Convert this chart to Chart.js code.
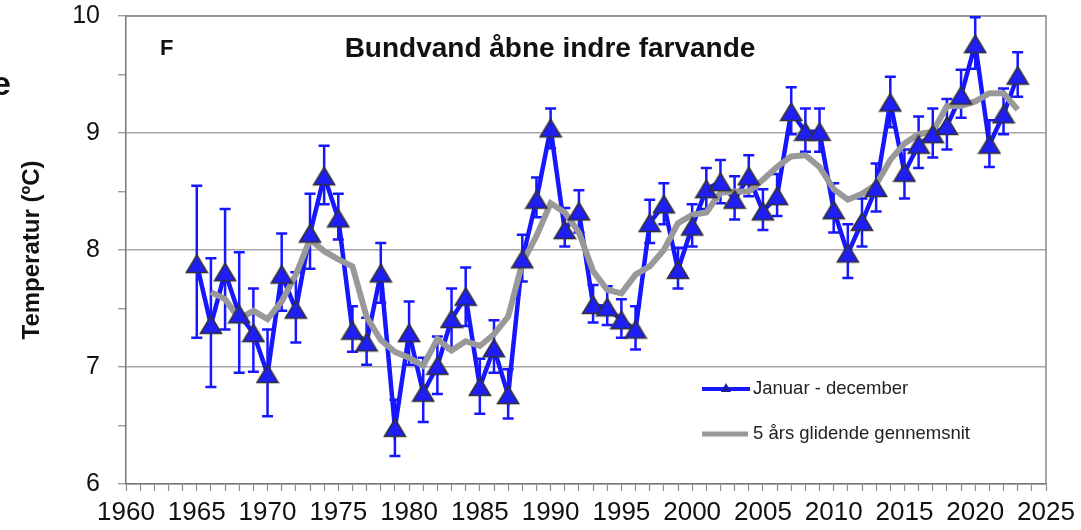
<!DOCTYPE html>
<html>
<head>
<meta charset="utf-8">
<script src="https://cdn.jsdelivr.net/npm/chart.js@4.4.1/dist/chart.umd.min.js"></script>
<style>
  body { margin: 0; background: #fff; }
  #wrap { width: 1081px; height: 530px; position: relative; }
</style>
</head>
<body>
<div id="wrap"><canvas id="tempChart"></canvas></div>
<script>
const FONT = "'Liberation Sans', Arial, sans-serif";

// Januar - december, yearly mean with error bars
const years = [
  1965, 1966, 1967, 1968, 1969, 1970, 1971, 1972, 1973, 1974,
  1975, 1976, 1977, 1978, 1979, 1980, 1981, 1982, 1983, 1984,
  1985, 1986, 1987, 1988, 1989, 1990, 1991, 1992, 1993, 1994,
  1995, 1996, 1997, 1998, 1999, 2000, 2001, 2002, 2003, 2004,
  2005, 2006, 2007, 2008, 2009, 2010, 2011, 2012, 2013, 2014,
  2015, 2016, 2017, 2018, 2019, 2020, 2021, 2022, 2023,
];
const yearlyMean = [
  7.88, 7.36, 7.81, 7.45, 7.29, 6.94, 7.79, 7.49, 8.14, 8.63,
  8.27, 7.31, 7.21, 7.80, 6.48, 7.29, 6.78, 7.01, 7.41, 7.60,
  6.83, 7.16, 6.76, 7.92, 8.43, 9.04, 8.17, 8.33, 7.53, 7.51,
  7.40, 7.32, 8.23, 8.39, 7.83, 8.20, 8.52, 8.58, 8.43, 8.63,
  8.33, 8.46, 9.18, 9.01, 9.01, 8.34, 7.97, 8.24, 8.53, 9.26,
  8.66, 8.90, 8.99, 9.06, 9.32, 9.76, 8.90, 9.16, 9.49,
];
const errLow = [
  7.25, 6.83, 7.32, 6.95, 6.96, 6.58, 7.48, 7.21, 7.84, 8.39,
  8.09, 7.13, 7.02, 7.55, 6.24, 7.02, 6.53, 6.77, 7.15, 7.35,
  6.60, 6.95, 6.56, 7.73, 8.28, 8.87, 8.03, 8.15, 7.38, 7.36,
  7.25, 7.15, 8.06, 8.22, 7.67, 8.03, 8.35, 8.40, 8.26, 8.46,
  8.17, 8.29, 8.99, 8.84, 8.84, 8.15, 7.76, 8.03, 8.33, 9.05,
  8.44, 8.70, 8.79, 8.86, 9.13, 9.55, 8.71, 8.99, 9.31,
];
const errHigh = [
  8.55, 7.93, 8.35, 7.98, 7.67, 7.32, 8.14, 7.81, 8.48, 8.89,
  8.48, 7.52, 7.42, 8.06, 6.72, 7.56, 7.08, 7.26, 7.67, 7.85,
  7.07, 7.40, 6.98, 8.13, 8.62, 9.21, 8.36, 8.51, 7.70, 7.69,
  7.58, 7.52, 8.43, 8.57, 8.02, 8.39, 8.70, 8.77, 8.63, 8.81,
  8.52, 8.65, 9.39, 9.21, 9.21, 8.57, 8.22, 8.44, 8.74, 9.48,
  8.86, 9.14, 9.21, 9.29, 9.54, 9.99, 9.11, 9.38, 9.69,
];

// 5 års glidende gennemsnit
const avgYears = [
  1966, 1967, 1968, 1969, 1970, 1971, 1972, 1973, 1974, 1975,
  1976, 1977, 1978, 1979, 1980, 1981, 1982, 1983, 1984, 1985,
  1986, 1987, 1988, 1989, 1990, 1991, 1992, 1993, 1994, 1995,
  1996, 1997, 1998, 1999, 2000, 2001, 2002, 2003, 2004, 2005,
  2006, 2007, 2008, 2009, 2010, 2011, 2012, 2013, 2014, 2015,
  2016, 2017, 2018, 2019, 2020, 2021, 2022, 2023,
];
const movingAvg = [
  7.64, 7.58, 7.41, 7.48, 7.41, 7.56, 7.79, 8.09, 7.99, 7.92,
  7.86, 7.43, 7.23, 7.13, 7.08, 7.01, 7.24, 7.14, 7.22, 7.18,
  7.28, 7.43, 7.89, 8.12, 8.40, 8.32, 8.15, 7.82, 7.66, 7.63,
  7.79, 7.86, 8.00, 8.23, 8.30, 8.32, 8.49, 8.50, 8.50, 8.60,
  8.71, 8.80, 8.81, 8.71, 8.52, 8.43, 8.48, 8.56, 8.77, 8.91,
  8.99, 9.01, 9.23, 9.23, 9.27, 9.34, 9.34, 9.20,
];

const seriesNames = ["Januar - december", "5 års glidende gennemsnit"];
const panelLetter = "F";
const chartTitle = "Bundvand åbne indre farvande";
const yTitle = "Temperatur (ºC)";

const BLUE = "#1717ff";
const GREY = "#999999";

// triangle marker, centred on its bounding box
const tri = document.createElement("canvas");
tri.width = 24;
tri.height = 22;
const tctx = tri.getContext("2d");
tctx.beginPath();
tctx.moveTo(12, 2);
tctx.lineTo(22.5, 19.5);
tctx.lineTo(1.5, 19.5);
tctx.closePath();
tctx.fillStyle = "#1e1ef5";
tctx.fill();
tctx.strokeStyle = "#333";
tctx.lineWidth = 1.6;
tctx.stroke();

const errorBars = {
  id: "errorBars",
  afterDatasetDraw(chart, args) {
    if (args.index !== 0) return;
    const { ctx, scales: { x, y } } = chart;
    ctx.save();
    ctx.strokeStyle = BLUE;
    ctx.lineWidth = 2.5;
    years.forEach((yr, i) => {
      const px = x.getPixelForValue(yr);
      const top = y.getPixelForValue(errHigh[i]);
      const bot = y.getPixelForValue(errLow[i]);
      ctx.beginPath();
      ctx.moveTo(px, top);
      ctx.lineTo(px, bot);
      ctx.moveTo(px - 5.5, top);
      ctx.lineTo(px + 5.5, top);
      ctx.moveTo(px - 5.5, bot);
      ctx.lineTo(px + 5.5, bot);
      ctx.stroke();
    });
    ctx.restore();
  },
};

const frameAndText = {
  id: "frameAndText",
  beforeDatasetsDraw(chart) {
    const { ctx, chartArea: a } = chart;
    ctx.save();
    ctx.strokeStyle = "#8c8c8c";
    ctx.lineWidth = 1.5;
    ctx.beginPath();
    ctx.moveTo(a.left, a.top);
    ctx.lineTo(a.right, a.top);
    ctx.lineTo(a.right, a.bottom);
    ctx.stroke();
    ctx.restore();
  },
  afterDraw(chart) {
    const { ctx } = chart;
    ctx.save();
    ctx.fillStyle = "#111";
    ctx.textBaseline = "middle";
    ctx.font = "bold 22px " + FONT;
    ctx.textAlign = "left";
    ctx.fillText(panelLetter, 160, 49);
    ctx.font = "bold 28px " + FONT;
    ctx.textAlign = "center";
    ctx.fillText(chartTitle, 550, 49);

    // cut-off letter at the left edge
    ctx.font = "bold 34px " + FONT;
    ctx.textAlign = "right";
    ctx.textBaseline = "alphabetic";
    ctx.fillText("e", 11, 95);

    // legend
    ctx.lineCap = "butt";
    ctx.strokeStyle = BLUE;
    ctx.lineWidth = 4;
    ctx.beginPath();
    ctx.moveTo(702, 389);
    ctx.lineTo(750, 389);
    ctx.stroke();
    ctx.fillStyle = "#1a1a9a";
    ctx.beginPath();
    ctx.moveTo(726, 383);
    ctx.lineTo(731, 392);
    ctx.lineTo(721, 392);
    ctx.closePath();
    ctx.fill();

    ctx.strokeStyle = GREY;
    ctx.lineWidth = 5;
    ctx.beginPath();
    ctx.moveTo(702, 434);
    ctx.lineTo(748, 434);
    ctx.stroke();

    ctx.fillStyle = "#222";
    ctx.font = "18.5px " + FONT;
    ctx.textAlign = "left";
    ctx.textBaseline = "middle";
    ctx.fillText(seriesNames[0], 753, 389);
    ctx.fillText(seriesNames[1], 753, 434);
    ctx.restore();
  },
};

const ctx = document.getElementById("tempChart").getContext("2d");

new Chart(ctx, {
  type: "line",
  data: {
    datasets: [
      {
        label: seriesNames[0],
        data: years.map((yr, i) => ({ x: yr, y: yearlyMean[i] })),
        borderColor: BLUE,
        borderWidth: 4.5,
        pointRadius: 0,
        tension: 0,
        order: 3,
      },
      {
        label: seriesNames[1],
        data: avgYears.map((yr, i) => ({ x: yr, y: movingAvg[i] })),
        borderColor: GREY,
        borderWidth: 6,
        pointRadius: 0,
        tension: 0,
        order: 2,
      },
      {
        label: seriesNames[0] + " markers",
        data: years.map((yr, i) => ({ x: yr, y: yearlyMean[i] })),
        showLine: false,
        pointStyle: tri,
        pointRadius: 10,
        order: 1,
      },
    ],
  },
  options: {
    responsive: true,
    maintainAspectRatio: false,
    animation: false,
    devicePixelRatio: 1,
    layout: {
      padding: { left: 0, right: 35, top: 16, bottom: 0 },
    },
    plugins: {
      legend: { display: false },
      tooltip: { enabled: false },
    },
    scales: {
      x: {
        type: "linear",
        min: 1960,
        max: 2025,
        afterFit: (scale) => {
          scale.height = 46;
          scale.paddingLeft = 0;
          scale.paddingRight = 0;
        },
        ticks: {
          stepSize: 1,
          autoSkip: false,
          maxRotation: 0,
          padding: 6,
          color: "#111",
          font: { family: FONT, size: 26 },
          callback: (v) => (v % 5 === 0 ? String(v) : ""),
        },
        grid: {
          drawOnChartArea: false,
          tickLength: 7,
          tickColor: "#8c8c8c",
          tickWidth: 1.2,
        },
        border: { color: "#777", width: 1.5 },
      },
      y: {
        min: 6,
        max: 10,
        afterFit: (scale) => {
          scale.width = 126;
          scale.paddingTop = 0;
          scale.paddingBottom = 0;
        },
        ticks: {
          stepSize: 0.5,
          padding: 18,
          color: "#111",
          font: { family: FONT, size: 25 },
          callback: (v) => (v % 1 === 0 ? String(v) : ""),
        },
        grid: {
          color: (c) => (c.tick && c.tick.value % 1 === 0 ? "#a6a6a6" : "rgba(0,0,0,0)"),
          lineWidth: 1.5,
          tickLength: 8,
          tickColor: "#8c8c8c",
          tickWidth: 1.2,
        },
        border: { color: "#777", width: 1.5 },
        title: {
          display: true,
          text: yTitle,
          color: "#111",
          font: { family: FONT, size: 24, weight: "bold" },
          padding: { top: 18, bottom: 0 },
        },
      },
    },
  },
  plugins: [errorBars, frameAndText],
});
</script>
</body>
</html>
